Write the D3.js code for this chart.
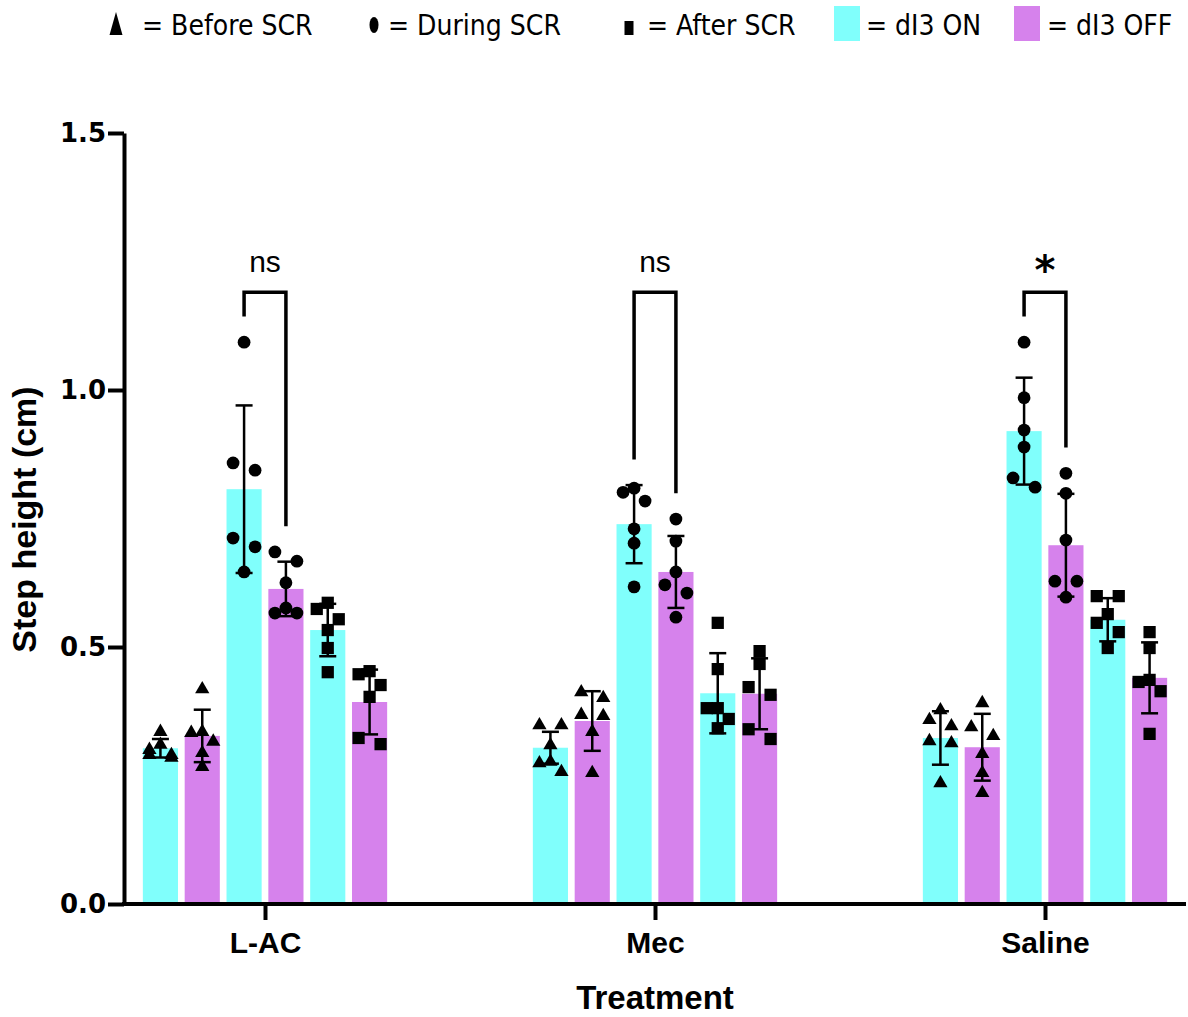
<!DOCTYPE html>
<html>
<head>
<meta charset="utf-8">
<script src="https://cdn.jsdelivr.net/npm/d3@7"></script>
<style>
  body { margin: 0; background: #fff; }
  svg { display: block; }
</style>
</head>
<body>
<svg id="chart" width="1188" height="1017"></svg>
<script>
// ---- data -------------------------------------------------------------
const treatments = ["L-AC", "Mec", "Saline"];
// bar order inside each treatment: phase x condition
const barKeys   = ["before-on", "before-off", "during-on", "during-off", "after-on", "after-off"];
const barPhase  = ["before", "before", "during", "during", "after", "after"];
const barState  = ["on", "off", "on", "off", "on", "off"];
const yTicks    = [0, 0.5, 1.0, 1.5];

// step height (cm): mean and SD per bar
const lacMeans    = [0.303, 0.327, 0.807, 0.613, 0.533, 0.393];
const lacSD       = [0.018, 0.051, 0.163, 0.053, 0.051, 0.063];
const mecMeans    = [0.304, 0.356, 0.739, 0.646, 0.410, 0.409];
const mecSD       = [0.031, 0.058, 0.076, 0.070, 0.078, 0.069];
const salineMeans = [0.323, 0.305, 0.920, 0.698, 0.553, 0.440];
const salineSD    = [0.052, 0.065, 0.104, 0.100, 0.042, 0.069];

// individual animals per bar
const lacPoints = [
  [0.335, 0.310, 0.300, 0.290, 0.290, 0.285],
  [0.418, 0.335, 0.333, 0.316, 0.294, 0.267],
  [1.093, 0.858, 0.844, 0.712, 0.695, 0.646],
  [0.685, 0.667, 0.625, 0.576, 0.566, 0.566],
  [0.586, 0.574, 0.554, 0.533, 0.498, 0.451],
  [0.453, 0.447, 0.426, 0.403, 0.323, 0.311]
];
const mecPoints = [
  [0.348, 0.348, 0.309, 0.277, 0.274, 0.257],
  [0.412, 0.401, 0.368, 0.366, 0.335, 0.255],
  [0.809, 0.801, 0.784, 0.730, 0.702, 0.617],
  [0.749, 0.706, 0.646, 0.621, 0.605, 0.558],
  [0.547, 0.457, 0.381, 0.381, 0.360, 0.342],
  [0.492, 0.467, 0.422, 0.407, 0.340, 0.321]
];
const salinePoints = [
  [0.377, 0.358, 0.346, 0.317, 0.313, 0.235],
  [0.391, 0.344, 0.327, 0.292, 0.255, 0.216],
  [1.093, 0.985, 0.922, 0.889, 0.829, 0.811],
  [0.838, 0.799, 0.708, 0.628, 0.628, 0.597],
  [0.599, 0.599, 0.564, 0.547, 0.529, 0.498],
  [0.529, 0.498, 0.436, 0.432, 0.414, 0.331]
];

// During ON vs During OFF comparison result per treatment
const comparisonLabels = ["ns", "ns", "*"];
const bracketLevel = 1.19;   // cm
const bracketGap   = 0.05;   // cm above the tallest mark

// ---- styling ----------------------------------------------------------
const colorOn  = "#80FFFC";
const colorOff = "#D682EC";
const fillFor = s => s === "on" ? colorOn : colorOff;
const titleFont = "'Liberation Sans', Arial, sans-serif";

const rows = treatments.map((t, i) => ({
  treatment: t,
  means: [lacMeans, mecMeans, salineMeans][i],
  sd: [lacSD, mecSD, salineSD][i],
  points: [lacPoints, mecPoints, salinePoints][i]
}));

const svg = d3.select("#chart");

// ---- scales -----------------------------------------------------------
const y  = d3.scaleLinear().domain([0, 1.5]).range([904, 133]);
const x0 = d3.scaleBand().domain(treatments).range([70, 1240]);
const x1 = d3.scaleBand().domain(barKeys).range([-125.5, 125.5])
             .paddingInner(0.16).paddingOuter(0.08);
const groupCenter = t => x0(t) + x0.bandwidth() / 2;
const barCenter = (t, k) => groupCenter(t) + x1(k) + x1.bandwidth() / 2;

// ---- bars -------------------------------------------------------------
const bars = [];
rows.forEach(r => barKeys.forEach((k, j) => bars.push({
  treatment: r.treatment, key: k, phase: barPhase[j], state: barState[j],
  mean: r.means[j], sd: r.sd[j], points: r.points[j]
})));

svg.append("g").selectAll("rect").data(bars).join("rect")
  .attr("x", d => groupCenter(d.treatment) + x1(d.key))
  .attr("width", x1.bandwidth())
  .attr("y", d => y(d.mean))
  .attr("height", d => y(0) - y(d.mean))
  .attr("fill", d => fillFor(d.state));

// ---- error bars (mean ± SD) -------------------------------------------
const capHalf = 8.5;
const eb = svg.append("g").attr("stroke", "#000").attr("stroke-width", 2.5).attr("fill", "none");
bars.forEach(d => {
  const cx = barCenter(d.treatment, d.key);
  const hi = y(d.mean + d.sd), lo = y(d.mean - d.sd);
  eb.append("line").attr("x1", cx).attr("x2", cx).attr("y1", hi).attr("y2", lo);
  eb.append("line").attr("x1", cx - capHalf).attr("x2", cx + capHalf).attr("y1", hi).attr("y2", hi);
  eb.append("line").attr("x1", cx - capHalf).attr("x2", cx + capHalf).attr("y1", lo).attr("y2", lo);
});

// ---- individual points (spread sideways when they would overlap) ------
const markerDiam = 12.5;
const spread = 11;
function swarmOffsets(values) {
  const order = values.map((v, i) => i).sort((a, b) => values[b] - values[a]);
  const offsets = new Array(values.length).fill(0);
  let cluster = [];
  const flush = () => {
    const k = cluster.length;
    const pattern = k === 1 ? [0] : k === 2 ? [-spread, spread] : k === 3 ? [0, -spread, spread]
      : cluster.map((_, i) => -spread + (2 * spread) * i / (k - 1));
    cluster.forEach((idx, i) => { offsets[idx] = pattern[i]; });
    cluster = [];
  };
  order.forEach((idx, n) => {
    if (n > 0) {
      const prev = order[n - 1];
      if (Math.abs(y(values[idx]) - y(values[prev])) >= markerDiam || cluster.length >= 3) flush();
    }
    cluster.push(idx);
  });
  flush();
  return offsets;
}

const symbolFor = {
  before: d3.symbol().type(d3.symbolTriangle).size(88),
  during: d3.symbol().type(d3.symbolCircle).size(128),
  after:  d3.symbol().type(d3.symbolSquare).size(150)
};
const pts = svg.append("g").attr("fill", "#000");
bars.forEach(d => {
  const offs = swarmOffsets(d.points);
  const cx = barCenter(d.treatment, d.key);
  pts.selectAll(null).data(d.points).join("path")
    .attr("d", symbolFor[d.phase]())
    .attr("transform", (v, i) => `translate(${cx + offs[i]},${y(v)})`);
});

// ---- axes -------------------------------------------------------------
const yAxis = svg.append("g").attr("transform", "translate(124,0)")
  .call(d3.axisLeft(y).tickValues(yTicks).tickFormat(d3.format(".1f"))
        .tickSize(16).tickSizeOuter(0).tickPadding(2));
yAxis.select(".domain").attr("stroke-width", 4);
yAxis.selectAll(".tick line").attr("stroke-width", 4);
yAxis.selectAll(".tick text")
  .attr("font-family", "'DejaVu Sans', sans-serif").attr("font-weight", "bold")
  .attr("font-size", 26).attr("fill", "#000");

const xg = svg.append("g").attr("transform", `translate(0,${y(0)})`);
const xCenters = d3.scalePoint().domain(treatments)
  .range([groupCenter(treatments[0]), groupCenter(treatments[treatments.length - 1])]);
xg.call(d3.axisBottom(xCenters).tickSize(16).tickSizeOuter(0).tickPadding(12));
xg.select(".domain").remove();
xg.selectAll(".tick line").attr("stroke-width", 4);
xg.selectAll(".tick text")
  .attr("font-family", titleFont).attr("font-weight", "bold")
  .attr("font-size", 30).attr("fill", "#000");
// x baseline spans the full plotting width
xg.append("line").attr("x1", 122).attr("x2", 1186).attr("y1", 0).attr("y2", 0)
  .attr("stroke", "#000").attr("stroke-width", 4);

// axis titles
svg.append("text")
  .attr("transform", `translate(36,${(y(0) + y(1.5)) / 2 + 1}) rotate(-90)`)
  .attr("text-anchor", "middle")
  .attr("font-family", titleFont).attr("font-weight", "bold").attr("font-size", 34)
  .text("Step height (cm)");
svg.append("text")
  .attr("x", xCenters(treatments[1])).attr("y", 1009)
  .attr("text-anchor", "middle")
  .attr("font-family", titleFont).attr("font-weight", "bold").attr("font-size", 33)
  .text("Treatment");

// ---- significance brackets --------------------------------------------
const br = svg.append("g");
rows.forEach((r, i) => {
  const jOn = barKeys.indexOf("during-on"), jOff = barKeys.indexOf("during-off");
  const topOf = j => Math.max(d3.max(r.points[j]), r.means[j] + r.sd[j]) + bracketGap;
  const xl = barCenter(r.treatment, "during-on"), xr = barCenter(r.treatment, "during-off");
  const top = y(bracketLevel);
  br.append("path")
    .attr("d", `M${xl},${y(topOf(jOn))}V${top}H${xr}V${y(topOf(jOff))}`)
    .attr("fill", "none").attr("stroke", "#000").attr("stroke-width", 3.5)
    .attr("stroke-linejoin", "miter");
  const lab = comparisonLabels[i];
  const star = lab.includes("*");
  br.append("text")
    .attr("x", (xl + xr) / 2).attr("y", star ? top - 8 : top - 20)
    .attr("text-anchor", "middle")
    .attr("font-family", star ? "'DejaVu Sans', sans-serif" : titleFont)
    .attr("font-weight", star ? "bold" : "normal")
    .attr("font-size", star ? 40 : 30)
    .text(lab);
});

// ---- legend -----------------------------------------------------------
const legendFont = "'DejaVu Sans Condensed', 'DejaVu Sans', sans-serif";
const lg = svg.append("g").attr("font-family", legendFont).attr("font-size", 28)
  .attr("font-stretch", "condensed");
const legendItems = [
  { mark: "triangle", label: "= Before SCR", mx: 116, tx: 142 },
  { mark: "circle",   label: "= During SCR", mx: 374, tx: 388 },
  { mark: "square",   label: "= After SCR",  mx: 629, tx: 647 },
  { mark: "on",       label: "= dI3 ON",     mx: 847, tx: 866 },
  { mark: "off",      label: "= dI3 OFF",    mx: 1027, tx: 1047 }
];
legendItems.forEach(it => {
  if (it.mark === "triangle") {
    lg.append("path").attr("d", `M${it.mx - 6.5},35L${it.mx + 6.5},35L${it.mx},12Z`).attr("fill", "#000");
  } else if (it.mark === "circle") {
    lg.append("ellipse").attr("cx", it.mx).attr("cy", 25).attr("rx", 4.5).attr("ry", 8).attr("fill", "#000");
  } else if (it.mark === "square") {
    lg.append("rect").attr("x", it.mx - 4.5).attr("y", 21).attr("width", 9).attr("height", 14).attr("fill", "#000");
  } else {
    lg.append("rect").attr("x", it.mx - 13).attr("y", 6).attr("width", 26).attr("height", 35)
      .attr("fill", fillFor(it.mark));
  }
  lg.append("text").attr("x", it.tx).attr("y", 35).text(it.label);
});
</script>
</body>
</html>
